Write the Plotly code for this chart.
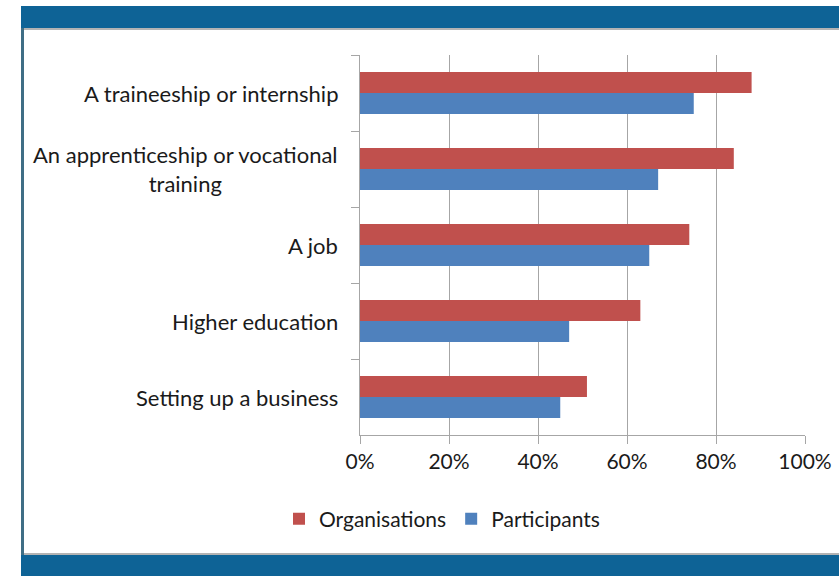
import plotly.graph_objects as go

categories = ["A traineeship or internship",
              "An apprenticeship or vocational<br>training",
              "A job",
              "Higher education",
              "Setting up a business"]
organisations = [88, 84, 74, 63, 51]
participants = [75, 67, 65, 47, 45]
tick_vals = [0, 20, 40, 60, 80, 100]
tick_text = ["0%", "20%", "40%", "60%", "80%", "100%"]

W, H = 839, 576
L, R, T, B = 360, 34, 55, 141
pw, ph = W - L - R, H - T - B

def px(x):
    return (x - L) / pw

def py(y):
    return (H - B - y) / ph

FONT = "Lato"
FS = 21
fig = go.Figure()
fig.add_trace(go.Bar(y=categories, x=organisations, name="Organisations",
                     orientation="h", marker=dict(color="#C0504D", line=dict(width=0))))
fig.add_trace(go.Bar(y=categories, x=participants, name="Participants",
                     orientation="h", marker=dict(color="#4F81BD", line=dict(width=0))))

for c in categories:
    fig.add_annotation(x=0, y=c, xref="x", yref="y", text=c, showarrow=False,
                       xanchor="right", yanchor="middle", align="center", xshift=-20,
                       font=dict(family=FONT, size=22, color="#1a1a1a"))

shapes = [
    dict(type="rect", xref="paper", yref="paper", x0=px(21), x1=px(845), y0=py(28), y1=py(6),
         fillcolor="#0E6396", line=dict(width=0), layer="below"),
    dict(type="rect", xref="paper", yref="paper", x0=px(21), x1=px(845), y0=py(580), y1=py(555),
         fillcolor="#0E6396", line=dict(width=0), layer="below"),
    dict(type="rect", xref="paper", yref="paper", x0=px(21), x1=px(24), y0=py(555), y1=py(28),
         fillcolor="#3F6E85", line=dict(width=0), layer="below"),
    dict(type="line", xref="paper", yref="paper", x0=px(24), x1=px(845), y0=py(29), y1=py(29),
         line=dict(color="#9a9a9a", width=1.5), layer="below"),
    dict(type="line", xref="paper", yref="paper", x0=px(24), x1=px(845), y0=py(554), y1=py(554),
         line=dict(color="#9a9a9a", width=1.5), layer="below"),
]

fig.update_layout(
    width=W, height=H,
    margin=dict(l=L, r=R, t=T, b=B, pad=0, autoexpand=False),
    paper_bgcolor="white", plot_bgcolor="white",
    barmode="group", bargap=0.45, bargroupgap=0,
    font=dict(family=FONT, size=FS, color="#1a1a1a"),
    shapes=shapes,
    showlegend=True,
    legend=dict(orientation="h", x=px(442), xanchor="center", y=py(519), yanchor="middle",
                font=dict(family=FONT, size=FS, color="#1a1a1a"), itemwidth=30,
                bgcolor="rgba(0,0,0,0)"),
    xaxis=dict(range=[0, 100], tickvals=tick_vals, ticktext=tick_text,
               showgrid=True, gridcolor="#a6a6a6", gridwidth=1,
               showline=True, linecolor="#a6a6a6", linewidth=1,
               ticks="outside", ticklen=8, tickcolor="#a6a6a6",
               zeroline=False, fixedrange=True, automargin=False,
               tickfont=dict(family=FONT, size=FS, color="#1a1a1a")),
    yaxis=dict(autorange="reversed", type="category", showticklabels=False,
               showline=True, linecolor="#a6a6a6", linewidth=1,
               ticks="outside", ticklen=8, tickcolor="#a6a6a6", automargin=False,
               tickson="boundaries", showgrid=False, fixedrange=True),
)

fig.write_html("out.html", config=dict(displayModeBar=False),
               post_script="document.body.style.margin='0';document.body.style.overflow='hidden';")
